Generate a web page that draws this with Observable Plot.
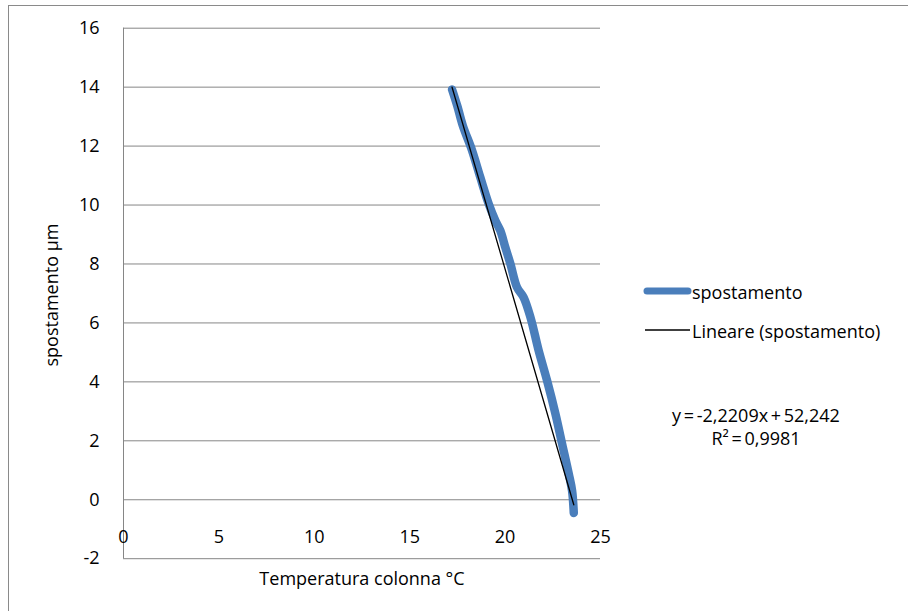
<!DOCTYPE html>
<html>
<head>
<meta charset="utf-8">
<script src="https://cdn.jsdelivr.net/npm/d3@7"></script>
<script src="https://cdn.jsdelivr.net/npm/@observablehq/plot@0.6"></script>
<style>
  html, body { margin: 0; padding: 0; background: #fff; }
  #wrap { position: relative; width: 908px; height: 611px; overflow: hidden; font-family: "Open Sans", sans-serif; color: #000; }
  #frame { position: absolute; left: 8px; top: 5px; width: 920px; height: 620px; border-left: 1px solid #8a8a8a; border-top: 1px solid #8a8a8a; pointer-events: none; }
  #chart { position: absolute; left: 0; top: 0; }
  .leg { position: absolute; font-size: 18px; line-height: 1; white-space: nowrap; }
  .eq { position: absolute; font-size: 18px; line-height: 1; white-space: nowrap; transform: translateX(-50%); word-spacing: -2px; }
  .ylab { position: absolute; font-size: 18px; line-height: 1; white-space: nowrap; transform: translate(-50%, -50%) rotate(-90deg); }
</style>
</head>
<body>
<div id="wrap">
  <div id="chart"></div>
  <div id="frame"></div>
  <div id="legend"></div>
</div>
<script>
// ---- data ----
const temperature = [17.22, 17.50, 17.78, 18.27, 18.70, 19.14, 19.49, 19.75, 20.01, 20.28, 20.63, 20.97, 21.33, 21.76, 22.20, 22.64, 22.99, 23.34, 23.51, 23.60];
const spostamento = [13.92, 13.35, 12.70, 11.85, 10.94, 10.04, 9.47, 9.13, 8.57, 8.00, 7.20, 6.87, 6.19, 5.06, 4.04, 2.91, 1.89, 0.87, 0.31, -0.45];
const trendSlope = -2.2209;
const trendIntercept = 52.242;
const rSquared = 0.9981;
const xTicks = [0, 5, 10, 15, 20, 25];
const yTicks = [-2, 0, 2, 4, 6, 8, 10, 12, 14, 16];
const seriesNames = ["spostamento", "Lineare (spostamento)"];
const xLabel = "Temperatura colonna °C";
const yLabel = "spostamento µm";
const eqText = "y = -2,2209x + 52,242";
const r2Text = "R² = 0,9981";

const data = temperature.map((t, i) => ({t, s: spostamento[i]}));
const tMin = d3.min(temperature), tMax = d3.max(temperature);
const trend = [tMin, tMax].map(t => ({t, s: trendSlope * t + trendIntercept}));

const blue = "#4a7ebb";
const grid = "#868686";
const fmt = d => String(d);

const chart = Plot.plot({
  width: 908,
  height: 611,
  marginLeft: 123,
  marginRight: 308,
  marginTop: 27.7,
  marginBottom: 52.8,
  x: {domain: [0, 25]},
  y: {domain: [-2, 16]},
  style: {fontFamily: "'Open Sans', sans-serif", fontSize: "18px", color: "#000", background: "transparent", overflow: "visible"},
  marks: [
    Plot.gridY(yTicks, {stroke: grid, strokeOpacity: 1, strokeWidth: 1}),
    Plot.ruleX([0], {stroke: grid, strokeWidth: 1}),
    Plot.axisY(yTicks, {tickSize: 0, tickPadding: 24, tickFormat: fmt, label: null, fontSize: 18}),
    Plot.axisX(xTicks, {tickSize: 0, tickPadding: 3, dy: -31, tickFormat: fmt, label: null, fontSize: 18}),
    Plot.axisX([], {label: xLabel, labelAnchor: "center", labelArrow: "none", labelOffset: 26, fontSize: 18}),
    Plot.line(data, {x: "t", y: "s", stroke: blue, strokeWidth: 8.5, strokeLinecap: "round", strokeLinejoin: "round", curve: "catmull-rom"}),
    Plot.line(trend, {x: "t", y: "s", stroke: "#000", strokeWidth: 1.3})
  ]
});
document.getElementById("chart").appendChild(chart);

// y-axis title, legend and trendline equation (HTML overlay)
const legend = document.getElementById("legend");
legend.innerHTML = `
  <div class="ylab" style="left:51px;top:295px">${yLabel}</div>
  <svg style="position:absolute;left:0;top:0" width="908" height="611">
    <line x1="647" x2="688" y1="291" y2="291" stroke="${blue}" stroke-width="7" stroke-linecap="round"/>
    <line x1="645" x2="690" y1="330" y2="330" stroke="#000" stroke-width="1.3"/>
  </svg>
  <div class="leg" style="left:692px;top:283px">${seriesNames[0]}</div>
  <div class="leg" style="left:692px;top:322px">${seriesNames[1]}</div>
  <div class="eq" style="left:756px;top:406px">${eqText}</div>
  <div class="eq" style="left:756px;top:429px">${r2Text}</div>
`;
</script>
</body>
</html>
